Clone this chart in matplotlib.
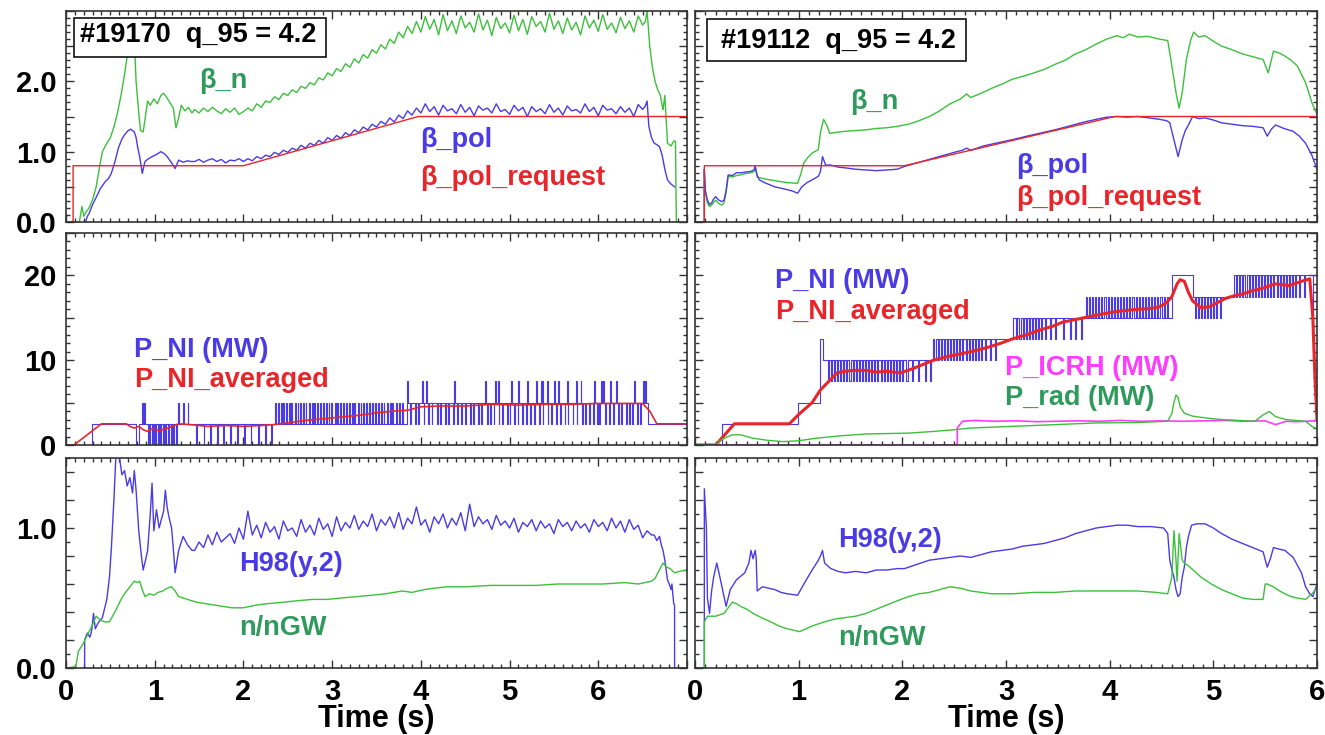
import numpy as np
import matplotlib
matplotlib.use("Agg")
import matplotlib.pyplot as plt
from matplotlib.ticker import MultipleLocator, FuncFormatter
from matplotlib.patches import Rectangle

plt.rcParams['font.family'] = ['Liberation Sans', 'DejaVu Sans']
plt.rcParams['font.weight'] = 'bold'

BLUE = '#4a3be6'
GREEN = '#3cc03c'
RED = '#e8262a'
MAGENTA = '#ff3cff'
TEAL = '#2f9a5c'

# ---------------- shot #19170 ----------------
# beta_pol request
bpr_l_t = [0.0, 0.08, 0.08, 2.0, 3.97, 7.0]
bpr_l_v = [0.0, 0.0, 0.8, 0.8, 1.5, 1.5]

# beta_n: start-up, sampled flat-top (0.05 s from 1.45 s), ramp-down
bn_l_head_t = [0.0, 0.15, 0.18, 0.20, 0.23, 0.26, 0.30, 0.34, 0.38, 0.41,
               0.46, 0.50, 0.54, 0.58, 0.62, 0.66, 0.70, 0.74, 0.77, 0.79,
               0.82, 0.84, 0.87, 0.90, 0.92, 0.95, 0.99, 1.03, 1.07, 1.10,
               1.13, 1.17, 1.21, 1.24, 1.27, 1.30, 1.34, 1.38, 1.42]
bn_l_head_v = [0, 0, 0.22, 0.08, 0.15, 0.2, 0.32, 0.5, 0.8, 1.0,
               1.12, 1.2, 1.35, 1.55, 1.8, 2.1, 2.45, 2.75, 2.6, 2.0,
               1.55, 1.3, 1.28, 1.55, 1.72, 1.66, 1.75, 1.68, 1.80, 1.83,
               1.78, 1.70, 1.62, 1.34, 1.48, 1.66, 1.58, 1.63, 1.55]
bn_l_mid_start = 1.45
bn_l_mid_v = [1.60, 1.55, 1.62, 1.57, 1.63, 1.58, 1.54, 1.61, 1.56, 1.62, 1.53, 1.57,
              1.62, 1.58, 1.68, 1.63, 1.72, 1.70, 1.78, 1.74, 1.83, 1.80, 1.88, 1.84,
              1.93, 1.90, 1.98, 1.95, 2.05, 2.02, 2.12, 2.08, 2.18, 2.14, 2.25, 2.20,
              2.32, 2.26, 2.38, 2.33, 2.45, 2.40, 2.52, 2.46, 2.60, 2.54, 2.70, 2.62,
              2.78, 2.68,
              2.85, 2.70, 2.92, 2.74, 2.88, 2.66, 2.95, 2.72, 2.86, 2.68, 2.93, 2.76,
              2.84, 2.70, 2.96, 2.73, 2.87, 2.65, 2.91, 2.75, 2.83, 2.69, 2.94, 2.72,
              2.88, 2.67, 2.92, 2.78, 2.85, 2.70, 2.97, 2.74, 2.86, 2.68, 2.90, 2.73,
              2.84, 2.66, 2.93, 2.76, 2.87, 2.71, 2.95, 2.74, 2.83, 2.69, 2.91, 2.75,
              2.86, 2.70, 2.93, 2.80]
bn_l_tail_t = [6.53, 6.55, 6.58, 6.61, 6.64, 6.67, 6.70, 6.72, 6.73, 6.75, 6.78, 6.82, 6.85, 6.87, 6.88]
bn_l_tail_v = [2.85, 3.0, 2.5, 2.2, 2.0, 1.88, 1.8, 1.65, 1.6, 1.8, 1.12, 1.08, 1.15, 1.15, 0.0]

# beta_pol
bp_l_head_t = [0.22, 0.24, 0.26, 0.30, 0.34, 0.39, 0.44, 0.48, 0.51, 0.55,
               0.59, 0.63, 0.66, 0.70, 0.73, 0.77, 0.79, 0.81, 0.83, 0.86,
               0.89, 0.93, 0.97, 1.02, 1.07, 1.11, 1.14, 1.18, 1.23, 1.27,
               1.32, 1.37, 1.41]
bp_l_head_v = [0.0, 0.08, 0.12, 0.25, 0.35, 0.48, 0.57, 0.62, 0.69, 0.85,
               1.05, 1.18, 1.24, 1.30, 1.32, 1.28, 1.2, 1.05, 0.93, 0.69,
               0.86, 0.90, 0.93, 0.96, 1.0, 0.97, 0.93, 0.86, 0.76, 0.88,
               0.85, 0.87, 0.86]
bp_l_mid_start = 1.45
bp_l_mid_v = [0.86, 0.89, 0.85, 0.88, 0.90, 0.86, 0.89, 0.84, 0.88, 0.87, 0.90, 0.86,
              0.90, 0.87, 0.93, 0.90, 0.95, 0.93, 0.99, 0.96, 1.02, 0.99, 1.05, 1.02,
              1.09, 1.05, 1.12, 1.09, 1.16, 1.12, 1.20, 1.16, 1.23, 1.19, 1.27, 1.23,
              1.31, 1.27, 1.35, 1.31, 1.39, 1.35, 1.43, 1.39, 1.48, 1.42, 1.52, 1.47,
              1.58, 1.52,
              1.62, 1.55, 1.68, 1.57, 1.64, 1.52, 1.66, 1.58, 1.61, 1.54, 1.67, 1.56,
              1.63, 1.51, 1.65, 1.59, 1.62, 1.55, 1.68, 1.57, 1.60, 1.53, 1.66, 1.58,
              1.63, 1.50, 1.64, 1.57, 1.61, 1.54, 1.67, 1.56, 1.62, 1.52, 1.65, 1.58,
              1.60, 1.55, 1.68, 1.57, 1.63, 1.51, 1.66, 1.59, 1.61, 1.54, 1.64, 1.56,
              1.62, 1.50, 1.67, 1.60]
bp_l_tail_t = [6.53, 6.55, 6.57, 6.60, 6.63, 6.66, 6.69, 6.72, 6.75, 6.78, 6.81, 6.84, 6.86]
bp_l_tail_v = [1.65, 1.72, 1.36, 1.2, 1.12, 1.1, 1.07, 0.95, 0.75, 0.6, 0.55, 0.52, 0.5]

# NBI power: step levels, plus short modulation pulses to other levels
pni_l_seg_t = [0.0, 0.29, 0.79, 0.82, 2.34, 3.84, 6.56]
pni_l_seg_v = [0.0, 2.5, 0.0, 2.5, 2.5, 5.0, 2.5]
pni_l_dip0 = [0.92, 0.94, 0.97, 0.99, 1.01, 1.04, 1.06, 1.09, 1.12, 1.15, 1.18, 1.21, 1.24,
              1.47, 1.55, 1.62, 1.70, 1.77, 1.85, 1.93, 2.01, 2.08, 2.16, 2.24, 2.31]
pni_l_up5 = [0.86, 0.88, 1.26, 1.32, 1.37,
             2.36, 2.39, 2.42, 2.45, 2.48, 2.51, 2.54, 2.58, 2.61, 2.64, 2.67, 2.70,
             2.74, 2.77, 2.80, 2.83, 2.86, 2.90, 2.93, 2.96, 2.99, 3.03, 3.06, 3.09,
             3.12, 3.16, 3.19, 3.22, 3.25, 3.29, 3.32, 3.35, 3.38, 3.42, 3.45, 3.48,
             3.52, 3.55, 3.58, 3.62, 3.65, 3.68, 3.72, 3.75, 3.79]
pni_l_dip25 = [3.88, 3.93, 3.97, 4.03, 4.08, 4.12, 4.18, 4.22, 4.27, 4.31, 4.36, 4.41,
               4.45, 4.50, 4.55, 4.59, 4.64, 4.68, 4.75, 4.78, 4.82, 4.88, 4.92, 4.97,
               5.0, 5.05, 5.09, 5.14, 5.19, 5.23, 5.28, 5.33, 5.38, 5.43, 5.47, 5.52,
               5.57, 5.62, 5.66, 5.71, 5.76, 5.815, 5.85, 5.9, 5.94, 5.99, 6.01, 6.08,
               6.12, 6.17, 6.22, 6.26, 6.31, 6.35, 6.38, 6.44, 6.47]
pni_l_up75 = [3.84, 4.01, 4.06, 4.37, 4.72, 4.84, 4.87, 5.02, 5.1, 5.2, 5.3, 5.35, 5.37,
              5.42, 5.5, 5.55, 5.65, 5.75, 5.8, 5.95, 6.03, 6.05, 6.13, 6.2, 6.4, 6.5, 6.53]

pavg_l_t = [0.0, 0.09, 0.40, 0.68, 0.72, 0.77, 0.82, 0.87, 0.92, 0.97,
            1.05, 1.15, 1.27, 1.4, 1.6, 1.8, 2.0, 2.2, 2.34, 2.5,
            2.7, 2.9, 3.1, 3.3, 3.5, 3.7, 3.85, 4.0, 4.2, 4.5,
            4.8, 5.1, 5.4, 5.7, 6.0, 6.3, 6.5, 6.58, 6.66, 7.0]
pavg_l_v = [0.0, 0.0, 2.5, 2.5, 2.2, 2.0, 2.2, 1.8, 1.6, 1.9,
            1.7, 2.0, 2.5, 2.4, 2.2, 2.3, 2.2, 2.3, 2.4, 2.6,
            2.9, 3.1, 3.3, 3.5, 3.8, 4.0, 4.1, 4.5, 4.6, 4.6,
            4.8, 4.7, 4.8, 4.8, 4.9, 4.9, 4.9, 4.0, 2.5, 2.5]

# H98(y,2)
h98_l_head_t = [0.21, 0.21, 0.24, 0.27, 0.29, 0.31, 0.33, 0.36, 0.41, 0.46,
                0.49, 0.51, 0.54, 0.56, 0.58, 0.60, 0.63, 0.66, 0.69, 0.72,
                0.75, 0.77, 0.79, 0.82, 0.85, 0.87, 0.90, 0.92, 0.95, 0.97,
                0.99, 1.02, 1.05, 1.07, 1.10, 1.12, 1.14, 1.16, 1.19, 1.21,
                1.23, 1.27, 1.32, 1.37, 1.42]
h98_l_head_v = [0.0, 0.2, 0.25, 0.22, 0.27, 0.39, 0.28, 0.32, 0.36, 0.49,
                0.65, 0.84, 1.2, 1.48, 1.55, 1.52, 1.38, 1.41, 1.30, 1.36,
                1.25, 1.41, 1.27, 0.98, 0.80, 0.70, 0.78, 0.84, 1.10, 1.32,
                0.98, 1.13, 1.0, 1.05, 1.12, 1.27, 1.15, 1.08, 1.0, 0.85,
                0.68, 0.84, 0.94, 0.88, 0.84]
h98_l_mid_start = 1.45
h98_l_mid_v = [0.84, 0.90, 0.86, 0.95, 0.88, 0.97, 0.90, 0.93, 0.96, 0.89, 1.00, 0.92,
               1.12, 0.95, 1.02, 0.93, 1.04, 0.97, 1.01, 0.92, 1.05, 0.98, 1.00, 0.94,
               1.06, 0.97, 1.02, 0.95, 1.07, 0.99, 1.03, 0.94,
               1.08, 0.98, 1.04, 1.00, 1.09, 0.99, 1.05, 1.01, 1.10, 0.98, 1.06, 1.02,
               1.08, 1.00, 1.11, 0.99, 1.07, 1.03, 1.15, 1.02,
               1.06, 0.97, 1.08, 1.03, 1.10, 1.00, 1.07, 1.02, 1.11, 0.98, 1.17, 1.01,
               1.08, 1.03, 1.06, 0.99, 1.09, 1.02, 1.05, 1.00,
               1.07, 0.97, 1.04, 1.01, 1.06, 0.98, 1.05, 1.00, 1.03, 0.96, 1.06, 1.01,
               1.04, 0.98, 1.05, 1.00, 1.03, 0.97, 1.06, 1.01,
               1.04, 0.98, 1.07, 1.00, 1.05, 0.97, 1.06, 0.99, 1.02, 0.93, 0.98, 0.95]
h98_l_tail_t = [6.63, 6.66, 6.69, 6.71, 6.73, 6.75, 6.78, 6.80, 6.82, 6.83, 6.85, 6.86, 6.86, 7.0]
h98_l_tail_v = [0.95, 0.91, 0.94, 0.88, 0.84, 0.77, 0.63, 0.6, 0.56, 0.6, 0.46, 0.45, 0.0, 0.0]

# Greenwald fraction
ngw_l_t = [0.0, 0.11, 0.14, 0.19, 0.26, 0.30, 0.34, 0.39, 0.44, 0.49,
           0.56, 0.62, 0.66, 0.72, 0.77, 0.81, 0.83, 0.86, 0.89, 0.94,
           0.99, 1.04, 1.09, 1.14, 1.19, 1.23, 1.27, 1.37, 1.47, 1.57,
           1.67, 1.77, 1.87, 2.0, 2.15, 2.28, 2.45, 2.6, 2.78, 2.95,
           3.1, 3.28, 3.45, 3.6, 3.79, 3.9, 4.04, 4.15, 4.29, 4.5,
           4.79, 5.0, 5.3, 5.55, 5.8, 6.05, 6.3, 6.45, 6.6, 6.64,
           6.68, 6.73, 6.77, 6.81, 6.86, 6.91, 7.0]
ngw_l_v = [0.0, 0.01, 0.12, 0.17, 0.26, 0.31, 0.37, 0.34, 0.33, 0.33,
           0.41, 0.49, 0.53, 0.58, 0.62, 0.61, 0.62, 0.56, 0.51, 0.53,
           0.52, 0.54, 0.55, 0.57, 0.58, 0.55, 0.51, 0.49, 0.47, 0.46,
           0.45, 0.44, 0.43, 0.43, 0.45, 0.46, 0.47, 0.48, 0.49, 0.49,
           0.50, 0.51, 0.52, 0.53, 0.55, 0.54, 0.56, 0.57, 0.58, 0.58,
           0.59, 0.59, 0.59, 0.60, 0.60, 0.60, 0.61, 0.60, 0.62, 0.64,
           0.69, 0.75, 0.72, 0.71, 0.68, 0.69, 0.70]

# ---------------- shot #19112 ----------------
bpr_r_t = [0.0, 0.09, 0.09, 2.02, 4.05, 6.0]
bpr_r_v = [0.0, 0.0, 0.8, 0.8, 1.5, 1.5]

bp_r_t = [0.0, 0.09, 0.09, 0.10, 0.12, 0.14, 0.16, 0.18, 0.20, 0.23,
          0.26, 0.28, 0.30, 0.32, 0.36, 0.40, 0.44, 0.49, 0.54, 0.57,
          0.58, 0.60, 0.62, 0.67, 0.72, 0.77, 0.83, 0.89, 0.94, 0.99,
          1.03, 1.08, 1.13, 1.19, 1.21, 1.23, 1.26, 1.31, 1.38, 1.45,
          1.55, 1.65, 1.75, 1.85, 1.95, 2.02, 2.14, 2.26, 2.38, 2.50,
          2.58, 2.62, 2.66, 2.78, 2.90, 3.06, 3.2, 3.35, 3.47, 3.6,
          3.75, 3.87, 3.97, 4.07, 4.17, 4.27, 4.38, 4.48, 4.55, 4.58,
          4.62, 4.66, 4.70, 4.73, 4.76, 4.80, 4.86, 4.92, 5.0, 5.08,
          5.18, 5.28, 5.38, 5.48, 5.52, 5.56, 5.60, 5.68, 5.77, 5.83,
          5.89, 5.95, 6.0]
bp_r_v = [0.0, 0.0, 0.75, 0.45, 0.31, 0.25, 0.27, 0.33, 0.36, 0.31,
          0.29, 0.31, 0.45, 0.67, 0.66, 0.70, 0.70, 0.71, 0.72, 0.74,
          0.80, 0.66, 0.60, 0.56, 0.53, 0.50, 0.48, 0.46, 0.44, 0.41,
          0.50, 0.56, 0.60, 0.65, 0.72, 0.93, 0.81, 0.81, 0.78, 0.77,
          0.75, 0.74, 0.73, 0.74, 0.75, 0.79, 0.84, 0.89, 0.94, 0.99,
          1.02, 1.05, 1.02, 1.08, 1.12, 1.17, 1.22, 1.27, 1.31, 1.36,
          1.42, 1.46, 1.49, 1.50, 1.49, 1.50, 1.48, 1.46, 1.44, 1.41,
          1.17, 0.93, 1.17, 1.30, 1.38, 1.50, 1.47, 1.48, 1.45, 1.41,
          1.39, 1.37, 1.36, 1.34, 1.22, 1.32, 1.38, 1.33, 1.29, 1.22,
          1.12, 0.95, 0.75]

bn_r_t = [0.0, 0.09, 0.09, 0.10, 0.12, 0.14, 0.16, 0.18, 0.20, 0.23,
          0.26, 0.28, 0.30, 0.32, 0.36, 0.40, 0.44, 0.49, 0.54, 0.57,
          0.58, 0.60, 0.65, 0.72, 0.80, 0.89, 0.99, 1.02, 1.05, 1.09,
          1.13, 1.19, 1.21, 1.24, 1.27, 1.30, 1.34, 1.45, 1.55, 1.65,
          1.75, 1.85, 1.95, 2.06, 2.16, 2.26, 2.36, 2.46, 2.56, 2.62,
          2.66, 2.76, 2.86, 2.96, 3.06, 3.16, 3.27, 3.37, 3.47, 3.57,
          3.67, 3.77, 3.87, 3.97, 4.07, 4.13, 4.19, 4.27, 4.37, 4.48,
          4.56, 4.60, 4.64, 4.67, 4.70, 4.74, 4.78, 4.81, 4.86, 4.92,
          5.0, 5.08, 5.18, 5.28, 5.38, 5.48, 5.53, 5.58, 5.64, 5.69,
          5.75, 5.81, 5.85, 5.89, 5.95, 6.0]
bn_r_v = [0.0, 0.0, 0.7, 0.42, 0.27, 0.22, 0.24, 0.28, 0.31, 0.26,
          0.24, 0.27, 0.42, 0.65, 0.64, 0.66, 0.67, 0.69, 0.70, 0.72,
          0.79, 0.64, 0.62, 0.60, 0.58, 0.56, 0.55, 0.68, 0.84, 0.92,
          0.98, 1.03, 1.27, 1.46, 1.38, 1.26, 1.27, 1.29, 1.30, 1.31,
          1.33, 1.34, 1.36, 1.39, 1.44, 1.50, 1.58, 1.68, 1.75, 1.82,
          1.77, 1.83, 1.90, 1.96, 2.03, 2.07, 2.12, 2.17, 2.24, 2.30,
          2.39, 2.45, 2.53, 2.60, 2.65, 2.62, 2.67, 2.63, 2.64, 2.60,
          2.58, 2.22, 1.84, 1.62, 1.84, 2.31, 2.58, 2.70, 2.63, 2.65,
          2.57, 2.50, 2.45, 2.39, 2.35, 2.31, 2.12, 2.43, 2.40, 2.36,
          2.30, 2.22, 2.10, 1.98, 1.70, 1.53]

pni_r_seg_t = [0.0, 0.26, 0.99, 1.21, 1.23, 2.30, 3.07, 4.60, 4.80, 5.20, 5.96]
pni_r_seg_v = [0.0, 2.5, 5.0, 12.5, 10.0, 12.5, 15.0, 20.0, 17.5, 20.0, 10.0]
pni_r_dip75 = [1.28, 1.31, 1.34, 1.37, 1.40, 1.43, 1.46, 1.49, 1.52, 1.55, 1.58, 1.61,
               1.64, 1.67, 1.70, 1.73, 1.76, 1.79, 1.82, 1.85, 1.88, 1.91, 1.94, 1.97,
               2.00, 2.04, 2.09, 2.15, 2.22, 2.27]
pni_r_dip10 = [2.31, 2.34, 2.37, 2.40, 2.43, 2.46, 2.49, 2.52, 2.55, 2.58, 2.61, 2.64,
               2.67, 2.70, 2.73, 2.76, 2.80, 2.85, 2.89]
pni_r_dip125 = [3.10, 3.13, 3.16, 3.19, 3.22, 3.25, 3.28, 3.31, 3.34, 3.38, 3.42, 3.47,
                3.55, 3.62, 3.67, 3.72]
pni_r_up175 = [3.77, 3.80, 3.83, 3.86, 3.89, 3.92, 3.95, 3.98, 4.01, 4.04, 4.07, 4.10,
               4.13, 4.16, 4.19, 4.22, 4.25, 4.28, 4.31, 4.34, 4.37, 4.40, 4.43, 4.46,
               4.49, 4.52, 4.55]
pni_r_dip15 = [4.82, 4.85, 4.88, 4.91, 4.94, 4.97, 5.00, 5.03, 5.06]
pni_r_dip175 = [5.22, 5.25, 5.28, 5.31, 5.34, 5.37, 5.40, 5.43, 5.46, 5.49, 5.52, 5.55,
                5.58, 5.61, 5.64, 5.67, 5.70, 5.73, 5.76, 5.79, 5.83, 5.87]

pavg_r_t = [0.0, 0.20, 0.38, 0.91, 1.0, 1.13, 1.21, 1.29, 1.37, 1.45,
            1.53, 1.65, 1.75, 1.85, 1.98, 2.1, 2.2, 2.3, 2.46, 2.66,
            2.82, 2.95, 3.06, 3.2, 3.31, 3.45, 3.55, 3.75, 3.95, 4.1,
            4.27, 4.4, 4.48, 4.55, 4.6, 4.65, 4.68, 4.72, 4.76, 4.8,
            4.88, 4.96, 5.04, 5.12, 5.2, 5.28, 5.38, 5.48, 5.6, 5.73,
            5.85, 5.93, 5.96, 5.98, 6.0]
pavg_r_v = [0.0, 0.0, 2.5, 2.5, 3.6, 5.0, 6.5, 7.5, 8.5, 8.7,
            8.8, 8.8, 8.6, 8.7, 8.5, 9.0, 9.5, 10.0, 10.5, 11.0,
            11.5, 12.0, 12.5, 13.0, 13.5, 14.0, 14.5, 15.0, 15.5, 15.8,
            16.0, 16.1, 16.3, 16.8, 17.5, 19.0, 19.5, 19.3, 18.0, 17.0,
            16.2, 16.3, 16.8, 17.3, 17.6, 17.8, 18.2, 18.5, 19.0, 18.8,
            19.3, 19.6, 15.0, 8.0, 3.0]

icrh_t = [0.0, 2.53, 2.53, 2.58, 2.7, 2.9, 3.1, 3.3, 3.5, 3.7,
          3.9, 4.1, 4.3, 4.5, 4.7, 4.9, 5.1, 5.3, 5.5, 5.6,
          5.7, 5.8, 5.9, 6.0]
icrh_v = [0.0, 0.0, 2.0, 2.8, 2.9, 2.8, 2.85, 2.75, 2.8, 2.85,
          2.8, 2.9, 2.8, 2.85, 2.8, 2.85, 2.9, 2.8, 2.85, 2.4,
          2.8, 2.75, 2.8, 2.85]

prad_t = [0.0, 0.2, 0.24, 0.3, 0.36, 0.44, 0.5, 0.56, 0.7, 0.85,
          1.0, 1.17, 1.37, 1.65, 2.06, 2.3, 2.5, 2.66, 3.06, 3.47,
          3.87, 4.27, 4.56, 4.6, 4.62, 4.64, 4.66, 4.68, 4.72, 4.8,
          4.95, 5.08, 5.25, 5.4, 5.48, 5.54, 5.6, 5.7, 5.89, 5.95,
          6.0]
prad_v = [0.0, 0.0, 0.5, 0.9, 1.2, 1.2, 1.0, 0.8, 0.55, 0.4,
          0.5, 0.8, 1.05, 1.3, 1.4, 1.6, 1.8, 2.0, 2.2, 2.4,
          2.6, 2.65, 2.8, 3.7, 5.0, 5.9, 5.6, 4.5, 3.75, 3.4,
          3.15, 3.0, 2.9, 2.8, 3.55, 3.95, 3.35, 3.0, 2.8, 2.2,
          1.9]

h98_r_t = [0.0, 0.09, 0.09, 0.11, 0.12, 0.14, 0.16, 0.18, 0.21, 0.24,
           0.28, 0.30, 0.34, 0.40, 0.48, 0.52, 0.54, 0.56, 0.58, 0.59,
           0.60, 0.65, 0.71, 0.77, 0.83, 0.89, 0.99, 1.05, 1.13, 1.19,
           1.21, 1.23, 1.25, 1.31, 1.38, 1.45, 1.55, 1.65, 1.75, 1.85,
           1.95, 2.02, 2.14, 2.26, 2.36, 2.46, 2.56, 2.66, 2.76, 2.86,
           2.96, 3.06, 3.16, 3.27, 3.37, 3.47, 3.57, 3.67, 3.77, 3.87,
           3.97, 4.07, 4.17, 4.27, 4.40, 4.52, 4.56, 4.58, 4.60, 4.62,
           4.64, 4.66, 4.68, 4.70, 4.72, 4.74, 4.76, 4.79, 4.84, 4.92,
           5.0, 5.08, 5.18, 5.28, 5.38, 5.48, 5.52, 5.55, 5.58, 5.63,
           5.69, 5.77, 5.85, 5.89, 5.93, 5.96, 6.0]
h98_r_v = [0.0, 0.0, 1.28, 1.0, 0.5, 0.39, 0.55, 0.65, 0.75, 0.65,
           0.51, 0.44, 0.56, 0.63, 0.68, 0.75, 0.84, 0.78, 0.84, 0.79,
           0.55, 0.58, 0.57, 0.56, 0.54, 0.53, 0.52, 0.6, 0.7, 0.77,
           0.80, 0.84, 0.75, 0.71, 0.69, 0.68, 0.69, 0.68, 0.70, 0.70,
           0.71, 0.71, 0.74, 0.77, 0.78, 0.79, 0.80, 0.79, 0.81, 0.83,
           0.84, 0.85, 0.87, 0.88, 0.89, 0.91, 0.93, 0.96, 0.98, 1.00,
           1.01, 1.02, 1.02, 1.01, 1.01, 1.00, 0.96, 0.77, 0.70, 0.65,
           0.56, 0.51, 0.53, 0.65, 0.72, 0.86, 0.94, 1.02, 1.03, 1.03,
           1.00, 0.96, 0.92, 0.89, 0.86, 0.83, 0.72, 0.78, 0.86, 0.85,
           0.84, 0.79, 0.68, 0.58, 0.53, 0.51, 0.60]

ngw_r_t = [0.0, 0.09, 0.09, 0.12, 0.20, 0.28, 0.32, 0.36, 0.40, 0.44,
           0.50, 0.56, 0.64, 0.73, 0.81, 0.89, 1.01, 1.07, 1.13, 1.25,
           1.35, 1.45, 1.55, 1.65, 1.75, 1.85, 1.95, 2.06, 2.16, 2.26,
           2.36, 2.46, 2.56, 2.66, 2.86, 3.06, 3.27, 3.47, 3.67, 3.87,
           4.07, 4.27, 4.45, 4.56, 4.60, 4.62, 4.64, 4.65, 4.67, 4.70,
           4.72, 4.76, 4.82, 4.88, 4.98, 5.08, 5.18, 5.28, 5.38, 5.48,
           5.50, 5.52, 5.58, 5.64, 5.69, 5.75, 5.81, 5.89, 5.95, 6.0]
ngw_r_v = [0.0, 0.0, 0.33, 0.37, 0.37, 0.39, 0.43, 0.47, 0.46, 0.44,
           0.42, 0.39, 0.36, 0.33, 0.30, 0.28, 0.26, 0.28, 0.30, 0.33,
           0.35, 0.36, 0.37, 0.39, 0.42, 0.45, 0.48, 0.51, 0.53, 0.54,
           0.56, 0.58, 0.57, 0.55, 0.53, 0.53, 0.54, 0.54, 0.55, 0.55,
           0.55, 0.55, 0.54, 0.53, 0.65, 0.98, 0.77, 0.62, 0.96, 0.77,
           0.75, 0.73, 0.69, 0.65, 0.60, 0.56, 0.53, 0.50, 0.49, 0.49,
           0.60, 0.60, 0.58, 0.55, 0.53, 0.51, 0.50, 0.49, 0.53, 0.57]


def sampled(head_t, head_v, start, mid_v, tail_t, tail_v, dt=0.05):
    # join hand-read key points with a uniformly sampled stretch
    mid_t = start + dt * np.arange(len(mid_v))
    t = np.concatenate([head_t, mid_t, tail_t])
    v = np.concatenate([head_v, mid_v, tail_v])
    return t, v


def pulsed(seg_t, seg_v, pulses, t_end, width=0.01):
    # step trace with short beam-modulation pulses to another level
    seg_t = np.asarray(seg_t)
    pts = list(zip(seg_t, seg_v))
    for times, level in pulses:
        for tp in times:
            base = seg_v[np.searchsorted(seg_t, tp, side='right') - 1]
            pts.append((tp, level))
            pts.append((tp + width, base))
    pts.append((t_end, seg_v[-1]))
    pts.sort()
    t, v = zip(*pts)
    return np.array(t), np.array(v)


fig = plt.figure(figsize=(13.25, 7.35), dpi=100)
W, H = 1325.0, 735.0
cols = [(66, 687), (695, 1317)]
rows = [(11, 222), (233, 445), (458, 668)]
axs = [[fig.add_axes([c0 / W, 1 - b / H, (c1 - c0) / W, (b - t) / H]) for (c0, c1) in cols]
       for (t, b) in rows]

lw = 1.0
# --- beta panels ---
ax = axs[0][0]
t, v = sampled(bn_l_head_t, bn_l_head_v, bn_l_mid_start, bn_l_mid_v, bn_l_tail_t, bn_l_tail_v)
ax.plot(t, v, color=GREEN, lw=lw)
t, v = sampled(bp_l_head_t, bp_l_head_v, bp_l_mid_start, bp_l_mid_v, bp_l_tail_t, bp_l_tail_v)
ax.plot(t, v, color=BLUE, lw=lw)
ax.plot(bpr_l_t, bpr_l_v, color=RED, lw=lw)

ax = axs[0][1]
ax.plot(bn_r_t, bn_r_v, color=GREEN, lw=lw)
ax.plot(bp_r_t, bp_r_v, color=BLUE, lw=lw)
ax.plot(bpr_r_t, bpr_r_v, color=RED, lw=lw)

# --- power panels ---
ax = axs[1][0]
t, v = pulsed(pni_l_seg_t, pni_l_seg_v,
              [(pni_l_dip0, 0.0), (pni_l_up5, 5.0), (pni_l_dip25, 2.5), (pni_l_up75, 7.5)], 7.0)
ax.plot(t, v, color=BLUE, lw=0.8, drawstyle='steps-post')
ax.plot(pavg_l_t, pavg_l_v, color=RED, lw=1.2)

ax = axs[1][1]
t, v = pulsed(pni_r_seg_t, pni_r_seg_v,
              [(pni_r_dip75, 7.5), (pni_r_dip10, 10.0), (pni_r_dip125, 12.5),
               (pni_r_up175, 17.5), (pni_r_dip15, 15.0), (pni_r_dip175, 17.5)], 6.0)
ax.plot(t, v, color=BLUE, lw=0.8, drawstyle='steps-post')
ax.plot(pavg_r_t, pavg_r_v, color=RED, lw=2.2)
ax.plot(icrh_t, icrh_v, color=MAGENTA, lw=1.2)
ax.plot(prad_t, prad_v, color=GREEN, lw=lw)

# --- confinement / density panels ---
ax = axs[2][0]
t, v = sampled(h98_l_head_t, h98_l_head_v, h98_l_mid_start, h98_l_mid_v, h98_l_tail_t, h98_l_tail_v)
ax.plot(t, v, color=BLUE, lw=lw)
ax.plot(ngw_l_t, ngw_l_v, color=GREEN, lw=lw)

ax = axs[2][1]
ax.plot(h98_r_t, h98_r_v, color=BLUE, lw=lw)
ax.plot(ngw_r_t, ngw_r_v, color=GREEN, lw=lw)

# --- axes styling ---
ylims = [(0, 3.0), (0, 25), (0, 1.5)]
ymaj = [0.5, 5, 0.2]
ymin = [0.1, 1, 0.1]


def yfmt(row):
    def f(val, pos):
        if row == 1:
            return f"{val:.0f}" if round(val) % 10 == 0 and val < 24 else ""
        if abs(val - round(val)) < 1e-6 and val < ylims[row][1] - 0.01:
            return f"{val:.1f}"
        return ""
    return FuncFormatter(f)


def xfmt(last):
    # integer seconds, up to the last labelled one
    return FuncFormatter(lambda val, pos: f"{val:.0f}" if val < last + 0.01 else "")


for r in range(3):
    for c in range(2):
        ax = axs[r][c]
        xmax = 7.0 if c == 0 else 6.0
        ax.set_xlim(0, xmax)
        ax.set_ylim(*ylims[r])
        ax.xaxis.set_major_locator(MultipleLocator(1))
        ax.xaxis.set_minor_locator(MultipleLocator(0.1))
        ax.yaxis.set_major_locator(MultipleLocator(ymaj[r]))
        ax.yaxis.set_minor_locator(MultipleLocator(ymin[r]))
        ax.yaxis.set_major_formatter(yfmt(r))
        ax.xaxis.set_major_formatter(xfmt(6))
        ax.tick_params(which='both', direction='in', top=True, right=True,
                       color='#333333', width=1.0, labelsize=21, pad=7)
        ax.tick_params(which='major', length=6)
        ax.tick_params(which='minor', length=3)
        for s in ax.spines.values():
            s.set_color('#333333')
            s.set_linewidth(1.2)
        if c == 1:
            ax.tick_params(labelleft=False)
        if r < 2:
            ax.tick_params(labelbottom=False)
        else:
            ax.set_xlabel("Time (s)", fontsize=22, fontweight='bold', labelpad=-1)

# --- shot boxes ---
for ax, (x0, x1, y0, y1), (tx, ty), label in [
        (axs[0][0], (0.013, 0.419, 0.782, 0.967), (0.0225, 0.853), "#19170  q_95 = 4.2"),
        (axs[0][1], (0.019, 0.436, 0.763, 0.962), (0.042, 0.825), "#19112  q_95 = 4.2")]:
    ax.add_patch(Rectangle((x0, y0), x1 - x0, y1 - y0, transform=ax.transAxes,
                           facecolor='white', edgecolor='#111111', lw=1.2, zorder=5))
    ax.text(tx, ty, label, transform=ax.transAxes, fontsize=19.5, fontweight='bold',
            color='black', ha='left', va='baseline', zorder=6)

# --- trace labels ---
fs = 19.5
labels = [
    (axs[0][0], 1.50, 1.91, "β_n", TEAL),
    (axs[0][0], 3.99, 1.06, "β_pol", BLUE),
    (axs[0][0], 3.99, 0.53, "β_pol_request", RED),
    (axs[0][1], 1.50, 1.60, "β_n", TEAL),
    (axs[0][1], 3.10, 0.70, "β_pol", BLUE),
    (axs[0][1], 3.10, 0.24, "β_pol_request", RED),
    (axs[1][0], 0.77, 10.4, "P_NI (MW)", BLUE),
    (axs[1][0], 0.77, 6.8, "P_NI_averaged", RED),
    (axs[1][1], 0.77, 18.5, "P_NI (MW)", BLUE),
    (axs[1][1], 0.77, 14.8, "P_NI_averaged", RED),
    (axs[1][1], 2.99, 8.3, "P_ICRH (MW)", MAGENTA),
    (axs[1][1], 2.99, 4.7, "P_rad (MW)", TEAL),
    (axs[2][0], 1.95, 0.695, "H98(y,2)", BLUE),
    (axs[2][0], 1.95, 0.236, "n/nGW", TEAL),
    (axs[2][1], 1.38, 0.865, "H98(y,2)", BLUE),
    (axs[2][1], 1.38, 0.164, "n/nGW", TEAL),
]
for ax, x, y, s, col in labels:
    ax.text(x, y, s, color=col, fontsize=fs, fontweight='bold', ha='left', va='baseline')

fig.savefig("out.png", dpi=100)
